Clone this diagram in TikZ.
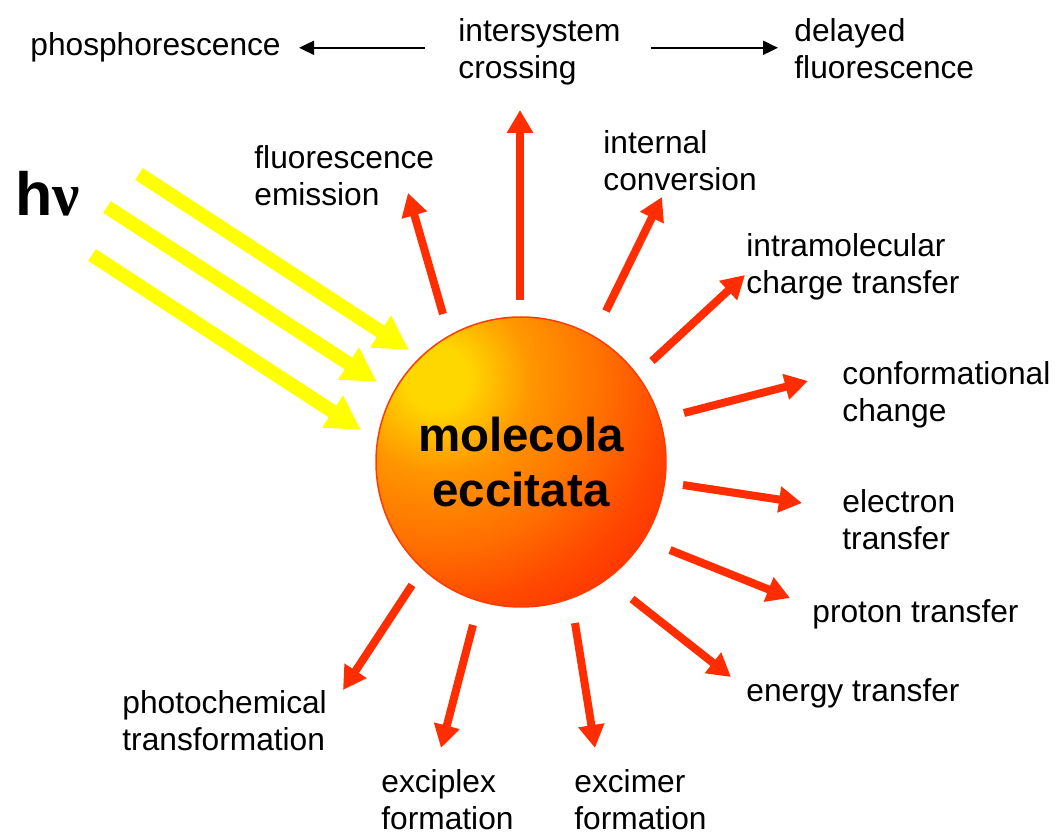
\documentclass[tikz,border=0pt]{standalone}
\usepackage{fontspec}
\setmainfont{Liberation Sans}
\newfontfamily\greekfont{Liberation Serif}
\usetikzlibrary{arrows.meta}

\definecolor{arrowred}{RGB}{255,45,0}
\definecolor{rimred}{RGB}{255,60,0}
\definecolor{rayyellow}{RGB}{255,255,0}
\definecolor{shA}{RGB}{255,215,0}
\definecolor{shB}{RGB}{255,150,0}
\definecolor{shC}{RGB}{255,112,0}
\definecolor{shD}{RGB}{255,72,0}
\definecolor{shE}{RGB}{255,40,0}
\pgfdeclareradialshading{molshade}{\pgfpointorigin}{color(0bp)=(shA); color(1.5bp)=(shA); color(4.5bp)=(shB); color(8bp)=(shC); color(11bp)=(shD); color(14.5bp)=(shE); color(50bp)=(shE)}

\newcommand\lblfont{\fontsize{15.85pt}{18.5pt}\selectfont}
\newcommand\molfont{\fontsize{23.75pt}{27.5pt}\selectfont\bfseries}

\begin{document}
\begin{tikzpicture}[x=0.5pt,y=-0.5pt,
    lbl/.style={anchor=base west,align=left,inner sep=0pt,font=\lblfont},
    molecule/.style={circle,draw=rimred,line width=0.75pt,minimum size=145pt,inner sep=0pt,
      align=center,font=\molfont,
      path picture={\shade[shading=molshade] ([shift={(-84,-84)}]path picture bounding box.center) circle (260pt);}},
    redarrow/.style={draw=arrowred,line width=4pt,-{Triangle[length=11.5pt,width=12.5pt]}},
    ray/.style={draw=rayyellow,line width=7pt,-{Triangle[length=17pt,width=18pt]}},
    thinarrow/.style={draw=black,line width=1pt,-{Triangle[length=7.5pt,width=7pt]}}]
\useasboundingbox (0,0) rectangle (1057,834);

\node[molecule] (mol) at (521,462) {molecola\\eccitata};
\node[anchor=base west,inner sep=0pt,font=\fontsize{30.5pt}{30.5pt}\selectfont\bfseries] (hv) at (15,216) {h{\greekfont ν}};

\node[lbl] (phos) at (30,56) {phosphorescence};
\node[lbl] (isc) at (458,79) {intersystem\\crossing};
\node[lbl] (delay) at (794,79) {delayed\\fluorescence};
\node[lbl] (fluor) at (254,206) {fluorescence\\emission};
\node[lbl] (intconv) at (603,191) {internal\\conversion};
\node[lbl] (ict) at (746,294) {intramolecular\\charge transfer};
\node[lbl] (conf) at (842,422) {conformational\\change};
\node[lbl] (et) at (842,550) {electron\\transfer};
\node[lbl] (pt) at (812,623) {proton transfer};
\node[lbl] (ent) at (746,702) {energy transfer};
\node[lbl] (photo) at (122,751) {photochemical\\transformation};
\node[lbl] (exciplex) at (381,830) {exciplex\\formation};
\node[lbl] (excimer) at (574,830) {excimer\\formation};

\draw[thinarrow,shorten <=16.5pt,shorten >=9pt] (isc.west |- phos.east) -- (phos.east);
\draw[thinarrow,shorten <=15pt,shorten >=8pt] (isc.east |- phos.east) -- (delay.west |- phos.east);

\coordinate (r1a) at (139,174); \coordinate (r1b) at (409,350);
\coordinate (r2a) at (107,207); \coordinate (r2b) at (377,382);
\coordinate (r3a) at (92,255);  \coordinate (r3b) at (361,430);
\draw[ray] (r1a) -- (r1b);
\draw[ray] (r2a) -- (r2b);
\draw[ray] (r3a) -- (r3b);

\coordinate (fluor-s) at (443,314);    \coordinate (fluor-e) at (408,193);
\coordinate (isc-s) at (520,300);      \coordinate (isc-e) at (520,110);
\coordinate (intconv-s) at (606,311);  \coordinate (intconv-e) at (662,197);
\coordinate (ict-s) at (652,361);      \coordinate (ict-e) at (745,275);
\coordinate (conf-s) at (684,413);     \coordinate (conf-e) at (808,381);
\coordinate (et-s) at (683,485);       \coordinate (et-e) at (802,503);
\coordinate (pt-s) at (670,550);       \coordinate (pt-e) at (790,598);
\coordinate (ent-s) at (632,599);      \coordinate (ent-e) at (731,677);
\coordinate (excimer-s) at (575,623);  \coordinate (excimer-e) at (595,748);
\coordinate (exciplex-s) at (473,625); \coordinate (exciplex-e) at (441,748);
\coordinate (photo-s) at (412,585);    \coordinate (photo-e) at (343,690);
\draw[redarrow] (fluor-s) -- (fluor-e);
\draw[redarrow] (isc-s) -- (isc-e);
\draw[redarrow] (intconv-s) -- (intconv-e);
\draw[redarrow] (ict-s) -- (ict-e);
\draw[redarrow] (conf-s) -- (conf-e);
\draw[redarrow] (et-s) -- (et-e);
\draw[redarrow] (pt-s) -- (pt-e);
\draw[redarrow] (ent-s) -- (ent-e);
\draw[redarrow] (excimer-s) -- (excimer-e);
\draw[redarrow] (exciplex-s) -- (exciplex-e);
\draw[redarrow] (photo-s) -- (photo-e);
\end{tikzpicture}
\end{document}
